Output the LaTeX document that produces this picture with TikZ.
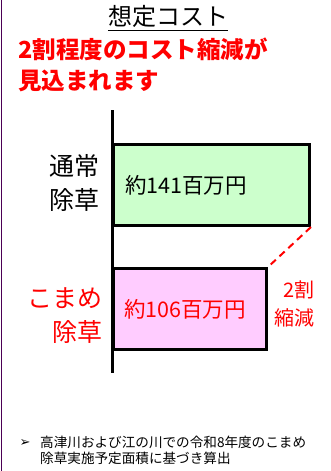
\documentclass[tikz,border=0pt]{standalone}
\usepackage{fontspec}
\setmainfont{Noto Sans CJK JP}
\newfontfamily\bulletfont{DejaVu Sans}
\usetikzlibrary{positioning}

\definecolor{barGreen}{RGB}{204,255,204}
\definecolor{barPink}{RGB}{255,204,255}
\definecolor{edgePurple}{RGB}{75,0,85}
\definecolor{alertRed}{RGB}{255,0,0}

\begin{document}
\begin{tikzpicture}[x=1pt,y=-1pt,
  bar/.style={draw=black,line width=3pt,minimum height=81pt,inner sep=0pt},
  barcost/.style={anchor=west,inner sep=0pt,font=\fontsize{21.5}{25}\selectfont},
  rowlabel/.style={anchor=east,align=right,inner sep=0pt,font=\fontsize{25}{34}\selectfont}]
  \useasboundingbox (0,0) rectangle (330,471);

  % --- Frame edge ---
  \draw[edgePurple,line width=1pt] (1.5,0) -- (1.5,471);

  % --- Title and headline ---
  \node[inner sep=0pt,font=\fontsize{24}{28}\selectfont] (title) at (168,16) {想定コスト};
  \draw[line width=1.2pt] ([yshift=-3.5pt]title.south west) -- ([yshift=-3.5pt]title.south east);
  \node[anchor=north west,align=left,inner sep=0pt,text=alertRed,
        font=\fontsize{23.5}{31}\selectfont\bfseries] (headline) at (18,38)
        {2割程度のコスト縮減が\\見込まれます};

  % --- Axis ---
  \coordinate (axtop) at (112,110);
  \coordinate (axbot) at (112,373);
  \draw[line width=3pt] (axtop) -- (axbot);

  % --- Bars ---
  \node[bar,fill=barGreen,minimum width=196pt,anchor=north west] (normal) at (112,143) {};
  \node[bar,fill=barPink,minimum width=153pt,below right=40pt and 0pt of normal.south west] (komame) {};

  % --- Bar texts ---
  \node[barcost] (normalcost) at ([xshift=13pt]normal.west) {約141百万円};
  \node[barcost,text=alertRed] (komamecost) at ([xshift=12pt]komame.west) {約106百万円};
  \node[rowlabel] (normallabel) at ([xshift=-12pt,yshift=2pt]normal.west) {通常\\除草};
  \node[rowlabel,text=alertRed] (komamelabel) at ([xshift=-9pt,yshift=-7pt]komame.west) {こまめ\\除草};

  % --- Reduction ---
  \draw[alertRed,line width=2pt,dash pattern=on 7pt off 5pt] (normal.south east) -- (komame.north east);
  \node[anchor=east,align=right,inner sep=0pt,text=alertRed,
        font=\fontsize{20}{28}\selectfont] (cut) at (315,304) {2割\\縮減};

  % --- Footnote ---
  \node[anchor=west,align=left,inner sep=0pt,font=\fontsize{13.6}{15.5}\selectfont] (note) at (40,450.5)
        {高津川および江の川での令和8年度のこまめ\\除草実施予定面積に基づき算出};
  \node[inner sep=0pt,font=\bulletfont\fontsize{13}{15}\selectfont] (bullet) at (25,443) {➢};
\end{tikzpicture}
\end{document}
